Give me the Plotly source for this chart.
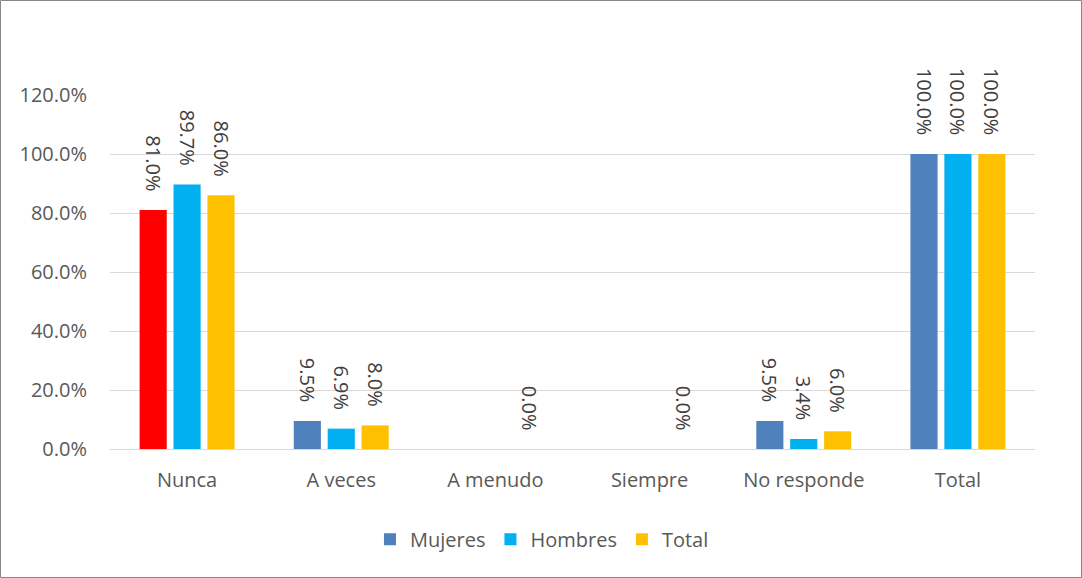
import plotly.graph_objects as go

categories = ["Nunca", "A veces", "A menudo", "Siempre", "No responde", "Total"]
mujeres = [81.0, 9.5, None, None, 9.5, 100.0]
hombres = [89.7, 6.9, None, None, 3.4, 100.0]
total = [86.0, 8.0, 0.0, 0.0, 6.0, 100.0]
y_ticks = [0, 20, 40, 60, 80, 100, 120]
y_tick_labels = ["0.0%", "20.0%", "40.0%", "60.0%", "80.0%", "100.0%", "120.0%"]

FONT = "Open Sans"
FS = 20
W, H = 1082, 578
L, R, T, B = 110, 47, 95, 129
MUJ_BLUE = "#4F81BD"
mujeres_colors = ["#FF0000"] + [MUJ_BLUE] * (len(categories) - 1)

def labels(vals):
    # trailing no-break spaces leave a gap between the rotated label and the bar
    return ["" if v is None else f"{v:.1f}%\u00a0\u00a0\u00a0" for v in vals]

fig = go.Figure()
for name, vals, color, show, rank in [("Mujeres", mujeres, mujeres_colors, False, 1),
                                      ("Hombres", hombres, "#00B0F0", True, 2),
                                      ("Total", total, "#FFC000", True, 3)]:
    fig.add_trace(go.Bar(
        name=name, x=categories, y=vals, showlegend=show, legendrank=rank,
        marker=dict(color=color, line=dict(width=0)),
        text=labels(vals), textposition="outside", textangle=90,
        constraintext="none",
        textfont=dict(family=FONT, size=FS, color="#404040"),
        cliponaxis=False,
    ))
# legend-only entry so that the Mujeres legend swatch is blue
fig.add_trace(go.Scatter(
    x=[categories[0]], y=[None], mode="markers", name="Mujeres",
    marker=dict(symbol="square", size=14, color=MUJ_BLUE), legendrank=1,
    hoverinfo="skip",
))

pw, ph = W - L - R, H - T - B
fig.add_shape(type="rect", xref="paper", yref="paper",
              x0=(-L + 0.5) / pw, x1=1 + (R - 0.5) / pw,
              y0=(-B + 0.5) / ph, y1=1 + (T - 0.5) / ph,
              line=dict(color="#888888", width=1))

fig.update_layout(
    width=W, height=H,
    margin=dict(l=L, r=R, t=T, b=B),
    paper_bgcolor="white", plot_bgcolor="white",
    barmode="group", bargap=0.34, bargroupgap=0.2,
    font=dict(family=FONT, size=FS, color="#595959"),
    showlegend=True,
    legend=dict(orientation="h", x=0.467, xanchor="center", y=-0.2, yanchor="top",
                font=dict(family=FONT, size=FS, color="#595959"),
                itemsizing="constant", itemwidth=30, tracegroupgap=0),
)
fig.update_xaxes(type="category", categoryorder="array", categoryarray=categories,
                 showgrid=False, showline=False, ticks="", ticklabelstandoff=17,
                 tickfont=dict(family=FONT, size=FS, color="#595959"))
fig.update_yaxes(range=[0, 120], tickvals=y_ticks, ticktext=y_tick_labels,
                 showgrid=True, gridcolor="#D9D9D9", gridwidth=1,
                 zeroline=True, zerolinecolor="#D9D9D9", zerolinewidth=1,
                 showline=False, ticks="", ticklabelstandoff=22,
                 tickfont=dict(family=FONT, size=FS, color="#595959"))

fig.write_html("out.html", config={"displayModeBar": False},
               post_script="document.body.style.margin='0';")
